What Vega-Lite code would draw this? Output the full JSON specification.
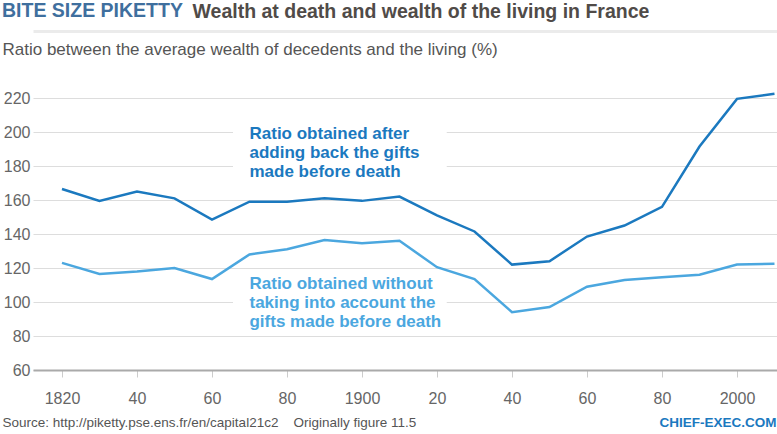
{
  "$schema": "https://vega.github.io/schema/vega-lite/v6.json",
  "width": 744,
  "height": 282,
  "autosize": {"type": "none"},
  "padding": {"left": 33, "top": 88, "right": 0, "bottom": 64},
  "background": "white",
  "title": {
    "text": "BITE SIZE PIKETTY",
    "anchor": "start",
    "frame": "bounds",
    "orient": "top",
    "offset": -20.5,
    "font": "Liberation Sans",
    "fontSize": 19.5,
    "fontWeight": "bold",
    "color": "#3f6f9e"
  },
  "layer": [
    {
      "data": {"values": [{}]},
      "mark": {"type": "rect", "fill": "white"},
      "encoding": {
        "x": {"datum": 1865.6, "type": "quantitative", "axis": {"orient": "top", "offset": 57, "domain": true, "domainColor": "#ebebeb", "domainWidth": 3, "labels": false, "ticks": false, "grid": false, "title": "Wealth at death and wealth of the living in France", "titleX": 159, "titleY": -14, "titleAlign": "left", "titleAnchor": "start", "titleBaseline": "alphabetic", "titleFontSize": 19.5, "titleFontWeight": "bold", "titleColor": "#504b48"}},
        "x2": {"datum": 1922.6},
        "y": {"datum": 204, "type": "quantitative", "axis": null},
        "y2": {"datum": 171.8}
      }
    },
    {
      "data": {"values": [{}]},
      "mark": {"type": "rect", "fill": "white"},
      "encoding": {
        "x": {"datum": 1865.6, "type": "quantitative", "axis": {"orient": "bottom", "domain": false, "labels": false, "ticks": false, "grid": false, "title": "CHIEF-EXEC.COM", "titleX": 743, "titleY": 56, "titleAlign": "right", "titleAnchor": "end", "titleBaseline": "alphabetic", "titleFontSize": 13.5, "titleFontWeight": "bold", "titleColor": "#1b79bf"}},
        "x2": {"datum": 1922.6},
        "y": {"datum": 107, "type": "quantitative", "axis": null},
        "y2": {"datum": 92}
      }
    },
    {
      "data": {
        "values": [
          {"year": 1820, "value": 166.5, "series": "after adding back the gifts"},
          {"year": 1830, "value": 159.5, "series": "after adding back the gifts"},
          {"year": 1840, "value": 165, "series": "after adding back the gifts"},
          {"year": 1850, "value": 161, "series": "after adding back the gifts"},
          {"year": 1860, "value": 148.5, "series": "after adding back the gifts"},
          {"year": 1870, "value": 159, "series": "after adding back the gifts"},
          {"year": 1880, "value": 159, "series": "after adding back the gifts"},
          {"year": 1890, "value": 161, "series": "after adding back the gifts"},
          {"year": 1900, "value": 159.5, "series": "after adding back the gifts"},
          {"year": 1910, "value": 162, "series": "after adding back the gifts"},
          {"year": 1920, "value": 151, "series": "after adding back the gifts"},
          {"year": 1930, "value": 141.5, "series": "after adding back the gifts"},
          {"year": 1940, "value": 122, "series": "after adding back the gifts"},
          {"year": 1950, "value": 124, "series": "after adding back the gifts"},
          {"year": 1960, "value": 138.5, "series": "after adding back the gifts"},
          {"year": 1970, "value": 145, "series": "after adding back the gifts"},
          {"year": 1980, "value": 156, "series": "after adding back the gifts"},
          {"year": 1990, "value": 191.5, "series": "after adding back the gifts"},
          {"year": 2000, "value": 219.5, "series": "after adding back the gifts"},
          {"year": 2010, "value": 222.5, "series": "after adding back the gifts"},
          {"year": 1820, "value": 123, "series": "without the gifts"},
          {"year": 1830, "value": 116.5, "series": "without the gifts"},
          {"year": 1840, "value": 118, "series": "without the gifts"},
          {"year": 1850, "value": 120, "series": "without the gifts"},
          {"year": 1860, "value": 113.5, "series": "without the gifts"},
          {"year": 1870, "value": 128, "series": "without the gifts"},
          {"year": 1880, "value": 131, "series": "without the gifts"},
          {"year": 1890, "value": 136.5, "series": "without the gifts"},
          {"year": 1900, "value": 134.5, "series": "without the gifts"},
          {"year": 1910, "value": 136, "series": "without the gifts"},
          {"year": 1920, "value": 120.5, "series": "without the gifts"},
          {"year": 1930, "value": 113.5, "series": "without the gifts"},
          {"year": 1940, "value": 94, "series": "without the gifts"},
          {"year": 1950, "value": 97, "series": "without the gifts"},
          {"year": 1960, "value": 109, "series": "without the gifts"},
          {"year": 1970, "value": 113, "series": "without the gifts"},
          {"year": 1980, "value": 114.5, "series": "without the gifts"},
          {"year": 1990, "value": 116, "series": "without the gifts"},
          {"year": 2000, "value": 122, "series": "without the gifts"},
          {"year": 2010, "value": 122.5, "series": "without the gifts"}
        ]
      },
      "mark": {"type": "line", "strokeWidth": 2.5},
      "encoding": {
        "x": {
          "field": "year",
          "type": "quantitative",
          "scale": {"domain": [1812.27, 2010.67], "nice": false, "zero": false},
          "axis": {
            "orient": "bottom",
            "values": [1820, 1840, 1860, 1880, 1900, 1920, 1940, 1960, 1980, 2000],
            "labelExpr": "(datum.value % 100 === 0 || datum.value === 1820) ? toString(datum.value) : toString(datum.value % 100)",
            "labelFontSize": 16,
            "labelColor": "#666666",
            "labelBaseline": "alphabetic",
            "labelPadding": 26,
            "labelFlush": false,
            "labelOverlap": false,
            "domain": true,
            "domainColor": "#aaaaaa",
            "domainWidth": 2,
            "ticks": true,
            "tickColor": "#cccccc",
            "tickSize": 7,
            "tickWidth": 1,
            "grid": false,
            "title": "Source: http://piketty.pse.ens.fr/en/capital21c2\u00a0\u00a0\u00a0\u00a0Originally figure 11.5",
            "titleX": -31,
            "titleY": 56,
            "titleAlign": "left",
            "titleAnchor": "start",
            "titleBaseline": "alphabetic",
            "titleFontSize": 13.5,
            "titleFontWeight": "normal",
            "titleColor": "#555555"
          }
        },
        "y": {
          "field": "value",
          "type": "quantitative",
          "scale": {"domain": [60, 225.9], "nice": false, "zero": false},
          "axis": {
            "orient": "left",
            "values": [60, 80, 100, 120, 140, 160, 180, 200, 220],
            "labelFontSize": 16,
            "labelColor": "#666666",
            "labelPadding": 3,
            "ticks": false,
            "domain": false,
            "grid": true,
            "gridColor": "#dddddd",
            "gridWidth": 1,
            "title": "Ratio between the average wealth of decedents and the living (%)",
            "titleAngle": 0,
            "titleAlign": "left",
            "titleAnchor": "start",
            "titleBaseline": "alphabetic",
            "titleX": -31,
            "titleY": -34,
            "titleFontSize": 17,
            "titleFontWeight": "normal",
            "titleColor": "#555555"
          }
        },
        "color": {
          "field": "series",
          "type": "nominal",
          "scale": {"domain": ["after adding back the gifts", "without the gifts"], "range": ["#1b79bf", "#4ba7df"]},
          "legend": null
        }
      }
    },
    {
      "data": {"values": [{}]},
      "mark": {"type": "text", "align": "left", "baseline": "alphabetic", "fontSize": 17, "fontWeight": "bold", "lineHeight": 19, "color": "#1b79bf"},
      "encoding": {
        "x": {"datum": 1870, "type": "quantitative", "axis": null},
        "y": {"datum": 195.9, "type": "quantitative", "axis": null},
        "text": {"value": ["Ratio obtained after", "adding back the gifts", "made before death"]}
      }
    },
    {
      "data": {"values": [{}]},
      "mark": {"type": "text", "align": "left", "baseline": "alphabetic", "fontSize": 17, "fontWeight": "bold", "lineHeight": 19, "color": "#4ba7df"},
      "encoding": {
        "x": {"datum": 1870, "type": "quantitative", "axis": null},
        "y": {"datum": 107.6, "type": "quantitative", "axis": null},
        "text": {"value": ["Ratio obtained without", "taking into account the", "gifts made before death"]}
      }
    }
  ],
  "resolve": {"axis": {"x": "independent", "y": "independent"}},
  "config": {
    "font": "Liberation Sans",
    "view": {"stroke": null},
    "axis": {"labelFont": "Liberation Sans", "titleFont": "Liberation Sans"}
  }
}
